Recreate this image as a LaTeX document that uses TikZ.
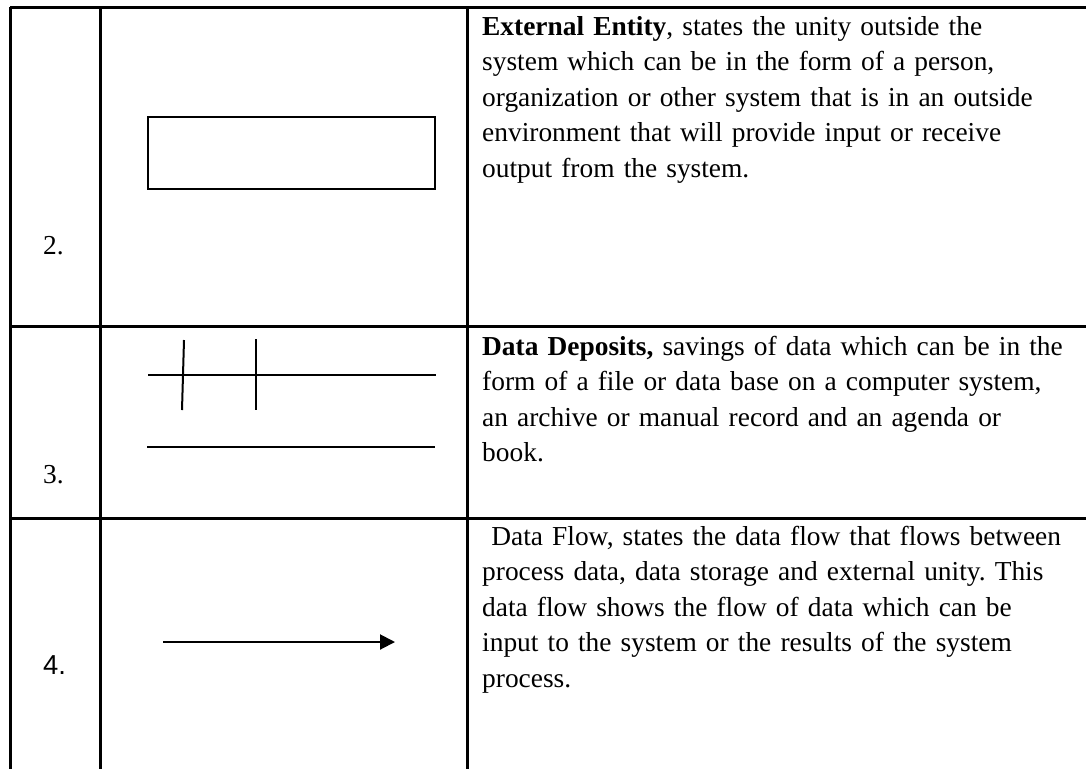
\documentclass[tikz,border=0pt]{standalone}
\usepackage{fontspec}
\setmainfont{Liberation Serif}
\setsansfont{Liberation Sans}
\usetikzlibrary{arrows.meta}
\newcommand{\cellfont}{\fontsize{27.4}{35.5}\selectfont\frenchspacing}

\begin{document}
\begin{tikzpicture}[
  x=1pt, y=-1pt,
  rule/.style={line width=3pt},
  symbol/.style={line width=2pt},
  desc/.style={anchor=base west, inner sep=0pt, text width=620pt, align=left, font=\cellfont},
  num/.style={anchor=base west, inner sep=0pt, font=\cellfont},
  flow/.style={-{Triangle[length=15pt, width=15pt]}, line width=2pt}
]
\useasboundingbox (0,0) rectangle (1086,769);

% table rules
\draw[rule] (10,7) -- (1086,7);
\draw[rule] (10,326) -- (1086,326);
\draw[rule] (10,518) -- (1086,518);
\foreach \x in {10,100,467}
  \draw[rule] (\x,7) -- (\x,769);

% row numbers
\node[num] (n2) at (43,254) {2.};
\node[num] (n3) at (43,483) {3.};
\node[num] (n4) at (43,674) {\sffamily 4.};

% external entity
\draw[symbol] (148,117) rectangle (435,189);

% data store
\draw[symbol] (148,375) -- (436,375);
\draw[symbol] (147,447) -- (435,447);
\draw[symbol] (184,340) -- (182,410);
\draw[symbol] (256,339) -- (256,410);

% data flow
\coordinate (fstart) at (163,642);
\coordinate (fend) at (395,642);
\draw[flow] (fstart) -- (fend);

% descriptions
\node[desc] (d2) at (482,35) {\textbf{External Entity}, states the unity outside the\\
system which can be in the form of a person,\\
organization or other system that is in an outside\\
environment that will provide input or receive\\
output from the system.};
\node[desc] (d3) at (482,355) {\textbf{Data Deposits,} savings of data which can be in the\\
form of a file or data base on a computer system,\\
an archive or manual record and an agenda or\\
book.};
\node[desc] (d4) at (482,545) {\ Data Flow, states the data flow that flows between\\
process data, data storage and external unity. This\\
data flow shows the flow of data which can be\\
input to the system or the results of the system\\
process.};
\end{tikzpicture}
\end{document}
